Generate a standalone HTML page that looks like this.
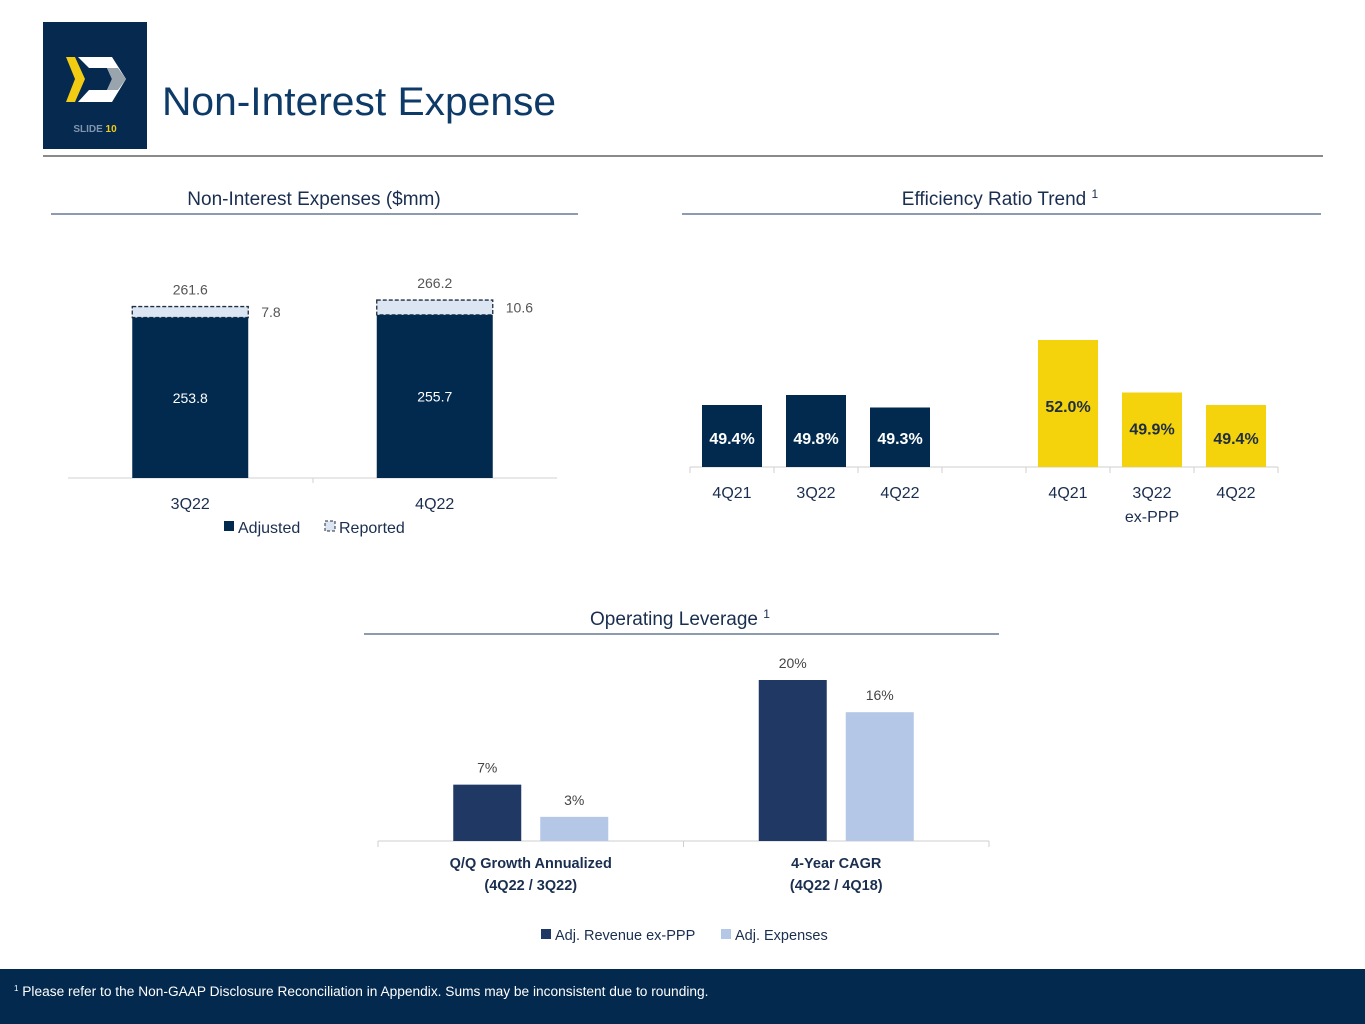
<!DOCTYPE html>
<html><head><meta charset="utf-8"><style>
html,body{margin:0;padding:0;background:#fff;}
svg{display:block;font-family:"Liberation Sans",sans-serif;}
</style></head><body>
<svg id="s" width="1365" height="1024" viewBox="0 0 1365 1024">
<rect x="43" y="22" width="104" height="127" fill="#06294f"/>
<g>
<polygon points="66,57 75,57 85,79 75,102 66,102 75,79" fill="#f2cc13"/>
<polygon points="78,57 112,57 126,79 112,102 78,102 89,90 107,90 112,79 107,68 89,68" fill="#fff"/>
<polygon points="107,68 118,68 126,79 118,90 107,90 112,79" fill="#9aa4ad"/>
</g>
<text x="95" y="132" text-anchor="middle" font-size="10" fill="#7f95ad" font-weight="bold">SLIDE <tspan fill="#f2cc13">10</tspan></text>
<text x="162" y="115" font-size="40" fill="#0e3a68" textLength="394" lengthAdjust="spacingAndGlyphs">Non-Interest Expense</text>
<line x1="43" y1="156" x2="1323" y2="156" stroke="#444" stroke-width="1.3"/>

<text x="314" y="205" text-anchor="middle" font-size="19" fill="#1a2e4f">Non-Interest Expenses ($mm)</text>
<line x1="51" y1="214" x2="578" y2="214" stroke="#1a3a5e"/>
<text x="1000" y="205" text-anchor="middle" font-size="19" fill="#1a2e4f">Efficiency Ratio Trend <tspan font-size="12" dy="-7">1</tspan></text>
<line x1="682" y1="214" x2="1321" y2="214" stroke="#1a3a5e"/>
<text x="680" y="625" text-anchor="middle" font-size="19" fill="#1a2e4f">Operating Leverage <tspan font-size="12" dy="-7">1</tspan></text>
<line x1="364" y1="634" x2="999" y2="634" stroke="#1a3a5e"/>

<g id="nie"></g><g id="eff"></g><g id="op"></g>

<rect x="0" y="969" width="1365" height="55" fill="#04294f"/>
<text x="14" y="996" font-size="13.5" fill="#fff"><tspan font-size="8" dy="-5">1</tspan><tspan dy="5" textLength="690" lengthAdjust="spacingAndGlyphs"> Please refer to the Non-GAAP Disclosure Reconciliation in Appendix. Sums may be inconsistent due to rounding.</tspan></text>
</svg>
<script>
// Non-interest expenses
const nieCats=["3Q22","4Q22"];
const nieAdjusted=[253.8,255.7];
const nieReported=[261.6,266.2];
const nieDiff=["7.8","10.6"];
// Efficiency ratio
const effCats=["4Q21","3Q22","4Q22","","4Q21","3Q22\nex-PPP","4Q22"];
const effValues=[49.4,49.8,49.3,null,52.0,49.9,49.4];
// Operating leverage
const opCats=["Q/Q Growth Annualized\n(4Q22 / 3Q22)","4-Year CAGR\n(4Q22 / 4Q18)"];
const opRevenue=[7,20];
const opExpenses=[3,16];

const NS="http://www.w3.org/2000/svg";
function mk(p,tag,a,txt){const e=document.createElementNS(NS,tag);for(const k in a)e.setAttribute(k,a[k]);if(txt!=null)e.textContent=txt;p.appendChild(e);return e;}

// chart 1
(function(){
const g=document.getElementById('nie');
const base=478,min=140,k=1.41;
const y=v=>base-(v-min)*k;
const x0=68,x1=557,slot=(x1-x0)/nieCats.length,bw=116;
let ax=mk(g,'line',{x1:x0,y1:base,x2:x1,y2:base,stroke:'#d0d0d0'});

nieCats.forEach((c,i)=>{
const cx=x0+slot*(i+0.5),bx=cx-bw/2;
let r=mk(g,'rect',{x:bx,y:y(nieReported[i]),width:bw,height:y(nieAdjusted[i])-y(nieReported[i]),fill:'#dce6f2',stroke:'#1f2d40','stroke-dasharray':'4,2','stroke-width':1.3});

let b=mk(g,'rect',{x:bx,y:y(nieAdjusted[i]),width:bw,height:base-y(nieAdjusted[i]),fill:'#022a4f'});

let t=mk(g,'text',{x:cx,y:(y(nieAdjusted[i])+base)/2+5,'text-anchor':'middle','font-size':14,fill:'#fff'},nieAdjusted[i].toFixed(1));

t=mk(g,'text',{x:cx,y:y(nieReported[i])-12,'text-anchor':'middle','font-size':14,fill:'#555'},nieReported[i].toFixed(1));

t=mk(g,'text',{x:bx+bw+13,y:(y(nieReported[i])+y(nieAdjusted[i]))/2+5,'font-size':14,fill:'#555'},nieDiff[i]);

t=mk(g,'text',{x:cx,y:509,'text-anchor':'middle','font-size':16,fill:'#1a2e4f'},c);

});
let tk=mk(g,'line',{x1:313,y1:base,x2:313,y2:base+5,stroke:'#d0d0d0'});

let lg=mk(g,'rect',{x:224,y:521,width:10,height:10,fill:'#022a4f'});

let lt=mk(g,'text',{x:238,y:533,'font-size':16,fill:'#1a2e4f'},'Adjusted');

lg=mk(g,'rect',{x:325,y:521,width:10,height:10,fill:'#dce6f2',stroke:'#1f2d40','stroke-dasharray':'3,2'});

lt=mk(g,'text',{x:339,y:533,'font-size':16,fill:'#1a2e4f'},'Reported');

})();

// chart 2
(function(){
const g=document.getElementById('eff');
const base=467,min=46.92,k=25;
const y=v=>base-(v-min)*k;
const x0=690,slot=84,bw=60;
let ax=mk(g,'line',{x1:x0,y1:base,x2:x0+slot*effCats.length,y2:base,stroke:'#cfcfcf'});

for(let i=0;i<=effCats.length;i++){let t=mk(g,'line',{x1:x0+slot*i,y1:base,x2:x0+slot*i,y2:base+6,stroke:'#cfcfcf'});}
effCats.forEach((c,i)=>{
const cx=x0+slot*(i+0.5);const v=effValues[i];
if(v!=null){
const yellow=i>3;
let b=mk(g,'rect',{x:cx-bw/2,y:y(v),width:bw,height:base-y(v),fill:yellow?'#f5d30c':'#022a4f'});

const ly=i===4?y(v)+72:i===5?y(v)+42:base-23;
let t=mk(g,'text',{x:cx,y:ly,'text-anchor':'middle','font-size':16,'font-weight':'bold',fill:yellow?'#1f2d40':'#fff'},v.toFixed(1)+'%');

}
c.split('\n').forEach((ln,j)=>{let t=mk(g,'text',{x:cx,y:498+j*24,'text-anchor':'middle','font-size':16,fill:'#1a2e4f'},ln);});
});
})();

// chart 3
(function(){
const g=document.getElementById('op');
const base=841,k=8.05;
const y=v=>base-v*k;
const x0=378,x1=989,slot=(x1-x0)/opCats.length,bw=68;
let ax=mk(g,'line',{x1:x0,y1:base,x2:x1,y2:base,stroke:'#cfcfcf'});

[0,1,2].forEach(i=>{let t=mk(g,'line',{x1:x0+slot*i,y1:base,x2:x0+slot*i,y2:base+6,stroke:'#cfcfcf'});});
opCats.forEach((c,i)=>{
const cx=x0+slot*(i+0.5);
[[opRevenue[i],'#1f3864',cx-87/2-bw/2,'revenue'],[opExpenses[i],'#b4c7e7',cx+87/2-bw/2,'expenses']].forEach(([v,col,bx,nm])=>{
let b=mk(g,'rect',{x:bx,y:y(v),width:bw,height:base-y(v),fill:col});

let t=mk(g,'text',{x:bx+bw/2,y:y(v)-12,'text-anchor':'middle','font-size':14,fill:'#444'},v+'%');

});
c.split('\n').forEach((ln,j)=>{let t=mk(g,'text',{x:cx,y:868+j*22,'text-anchor':'middle','font-size':14.5,'font-weight':'bold',fill:'#1a2e4f'},ln);});
});
let s=mk(g,'rect',{x:541,y:929,width:10,height:10,fill:'#1f3864'});
let t=mk(g,'text',{x:555,y:940,'font-size':14.5,fill:'#1a2e4f'},'Adj. Revenue ex-PPP');
s=mk(g,'rect',{x:721,y:929,width:10,height:10,fill:'#b4c7e7'});
t=mk(g,'text',{x:735,y:940,'font-size':14.5,fill:'#1a2e4f'},'Adj. Expenses');
})();
</script>
</body></html>
